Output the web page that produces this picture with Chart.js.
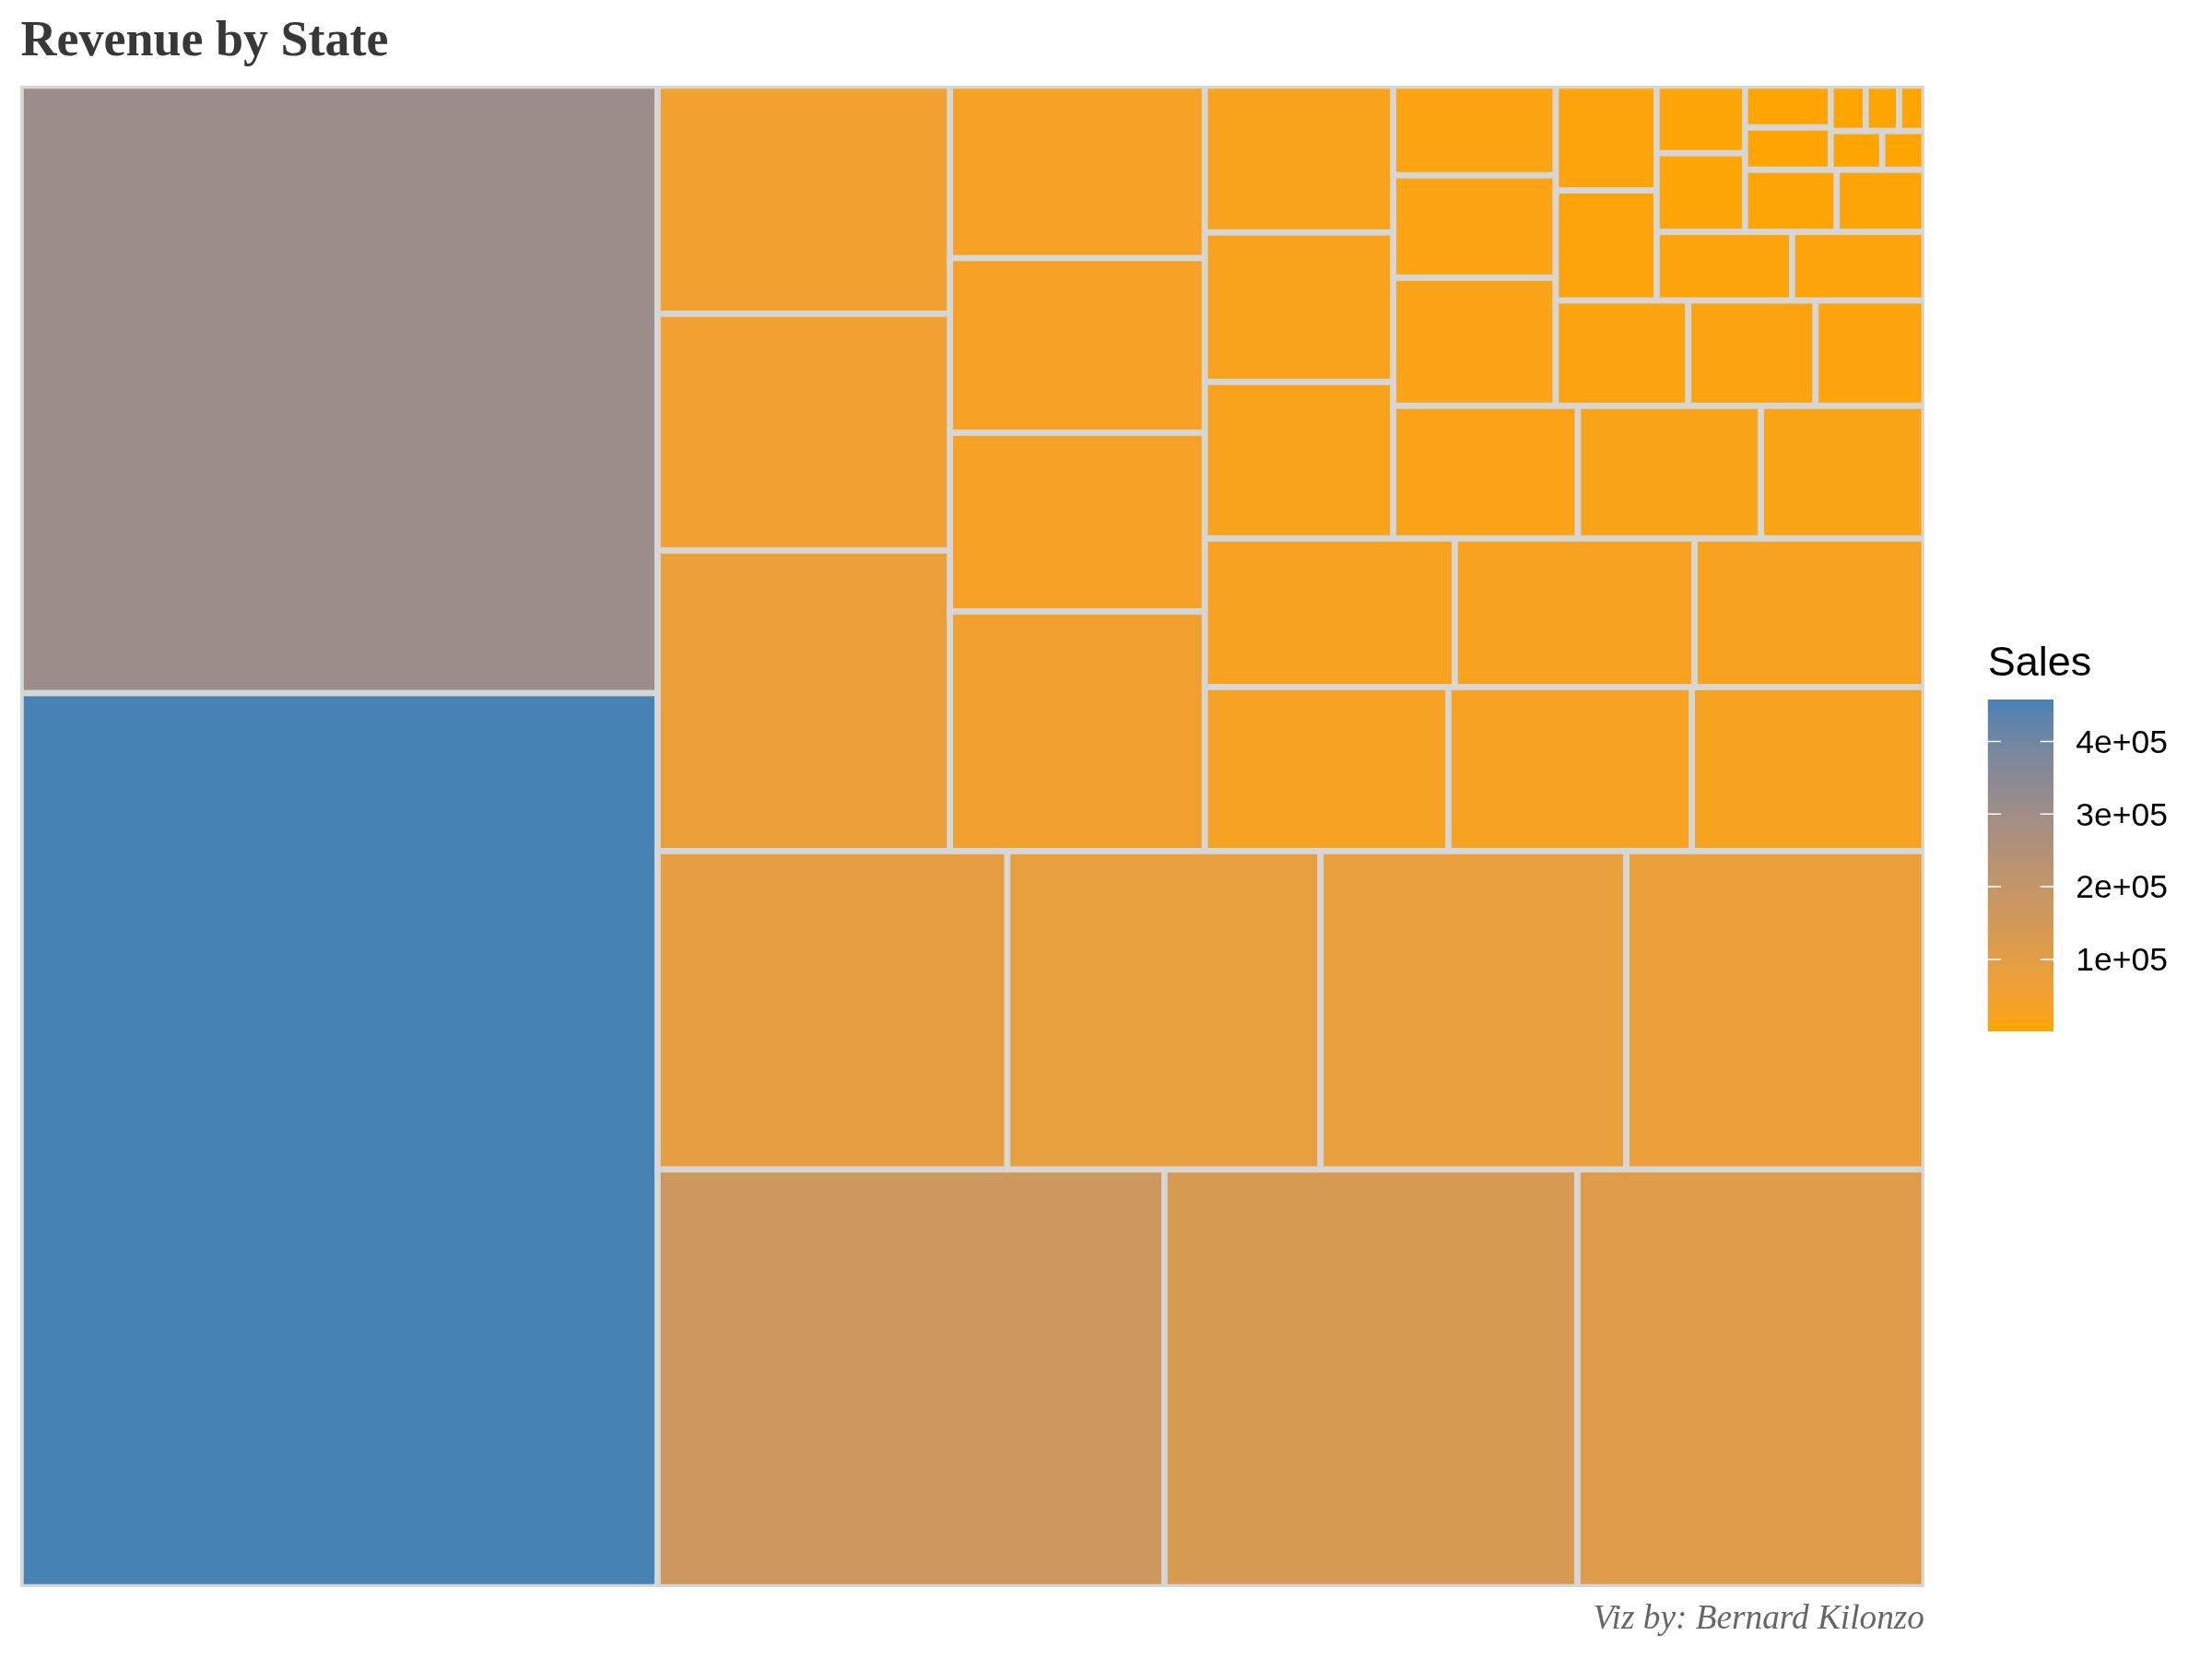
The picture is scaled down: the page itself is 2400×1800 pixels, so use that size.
<!DOCTYPE html>
<html>
<head>
<meta charset="utf-8">
<title>Revenue by State</title>
<script src="https://cdn.jsdelivr.net/npm/chart.js@4/dist/chart.umd.min.js"></script>
<style>
  html, body { margin: 0; padding: 0; background: #fff; }
  #wrap { position: relative; width: 2400px; height: 1800px; overflow: hidden; }
  #treemap { position: absolute; left: 0; top: 0; }
  #colorbar { position: absolute; left: 2100px; top: 670px; }
</style>
</head>
<body>
<div id="wrap">
  <canvas id="treemap" width="2400" height="1800"></canvas>
  <canvas id="colorbar" width="290" height="480"></canvas>
</div>
<script>
/* data, biggest first */
const states = [
  "California", "New York", "Texas", "Washington", "Pennsylvania", "Florida", "Illinois",
  "Ohio", "Michigan", "Virginia", "North Carolina", "Indiana", "Georgia", "Kentucky",
  "New Jersey", "Arizona", "Wisconsin", "Colorado", "Tennessee", "Minnesota", "Massachusetts",
  "Delaware", "Maryland", "Rhode Island", "Missouri", "Oklahoma", "Alabama", "Oregon",
  "Nevada", "Connecticut", "Arkansas", "Utah", "Mississippi", "Louisiana", "Vermont",
  "South Carolina", "Nebraska", "New Hampshire", "Montana", "New Mexico", "Iowa", "Idaho",
  "Kansas", "District of Columbia", "Wyoming", "South Dakota", "Maine", "West Virginia", "North Dakota"
];
const sales = [
  457688, 310876, 170188, 138641, 116512, 89474, 80166,
  78258, 76270, 70637, 55603, 53555, 49096, 36592,
  35764, 35282, 32115, 32108, 30662, 29863, 28634,
  27451, 23706, 22628, 22205, 19683, 19511, 17431,
  16729, 13385, 11678, 11220, 10771, 9217, 8929,
  8482, 7465, 7293, 5589, 4784, 4580, 4382,
  2914, 2865, 1603, 1316, 1271, 1210, 920
];
const legendTicks = [100000, 200000, 300000, 400000];
const legendLabels = ["1e+05", "2e+05", "3e+05", "4e+05"];

const LOW_COLOR = "#FFA500";
const HIGH_COLOR = "#4682B4";
const salesMin = Math.min(...sales);
const salesMax = Math.max(...sales);

/* --- colour scale, interpolated in Lab like ggplot's gradient --- */
function hexToLab(hex) {
  const n = parseInt(hex.slice(1), 16);
  const lin = [(n >> 16) & 255, (n >> 8) & 255, n & 255].map(c => {
    c /= 255;
    return c <= 0.04045 ? c / 12.92 : Math.pow((c + 0.055) / 1.055, 2.4);
  });
  const X = (0.4124564 * lin[0] + 0.3575761 * lin[1] + 0.1804375 * lin[2]) / 0.95047;
  const Y = 0.2126729 * lin[0] + 0.7151522 * lin[1] + 0.072175 * lin[2];
  const Z = (0.0193339 * lin[0] + 0.119192 * lin[1] + 0.9503041 * lin[2]) / 1.08883;
  const f = t => t > 0.008856 ? Math.cbrt(t) : 7.787 * t + 16 / 116;
  return [116 * f(Y) - 16, 500 * (f(X) - f(Y)), 200 * (f(Y) - f(Z))];
}

function labToRgb(lab) {
  const fy = (lab[0] + 16) / 116, fx = fy + lab[1] / 500, fz = fy - lab[2] / 200;
  const g = t => t * t * t > 0.008856 ? t * t * t : (t - 16 / 116) / 7.787;
  const X = g(fx) * 0.95047, Y = g(fy), Z = g(fz) * 1.08883;
  const rgb = [
    3.2404542 * X - 1.5371385 * Y - 0.4985314 * Z,
    -0.969266 * X + 1.8760108 * Y + 0.041556 * Z,
    0.0556434 * X - 0.2040259 * Y + 1.0572252 * Z
  ].map(c => {
    c = c <= 0.0031308 ? 12.92 * c : 1.055 * Math.pow(Math.max(c, 0), 1 / 2.4) - 0.055;
    return Math.round(Math.min(1, Math.max(0, c)) * 255);
  });
  return `rgb(${rgb[0]}, ${rgb[1]}, ${rgb[2]})`;
}

const labLow = hexToLab(LOW_COLOR);
const labHigh = hexToLab(HIGH_COLOR);

function salesColor(v) {
  const t = (v - salesMin) / (salesMax - salesMin);
  return labToRgb(labLow.map((c, i) => c + (labHigh[i] - c) * t));
}

/* --- squarified layout on the unit square, from the bottom left --- */
function worstRatio(strip, side) {
  const sum = strip.reduce((a, b) => a + b, 0);
  const lo = Math.min(...strip), hi = Math.max(...strip);
  return Math.max(side * side * hi / (sum * sum), sum * sum / (side * side * lo));
}

function squarify(values) {
  const total = values.reduce((a, b) => a + b, 0);
  const cells = [];
  let x = 0, y = 0, w = 1, h = 1, i = 0;
  while (i < values.length) {
    const alongX = w < h;
    const side = alongX ? w : h;
    const strip = [values[i] / total];
    let next = i + 1;
    while (next < values.length) {
      const tryStrip = strip.concat(values[next] / total);
      if (worstRatio(tryStrip, side) > worstRatio(strip, side)) break;
      strip.push(values[next] / total);
      next++;
    }
    const stripSum = strip.reduce((a, b) => a + b, 0);
    const depth = stripSum / side;
    let pos = alongX ? x : y;
    strip.forEach((area, k) => {
      const len = area / depth;
      if (alongX) cells.push({x: pos, y: y, x2: pos + len, y2: y + depth, value: values[i + k], name: states[i + k]});
      else cells.push({x: x, y: pos, x2: x + depth, y2: pos + len, value: values[i + k], name: states[i + k]});
      pos += len;
    });
    if (alongX) { y += depth; h -= depth; } else { x += depth; w -= depth; }
    i = next;
  }
  return cells;
}

/* --- treemap cell + controller, Chart.js has no treemap of its own --- */
class TreemapCell extends Chart.Element {
  static id = "treemapCell";
  static defaults = {backgroundColor: "#000000", borderColor: "#000000", borderWidth: 0};

  draw(ctx) {
    const o = this.options;
    const w = this.x2 - this.x, h = this.y2 - this.y;
    ctx.save();
    ctx.fillStyle = o.backgroundColor;
    ctx.fillRect(this.x, this.y, w, h);
    ctx.strokeStyle = o.borderColor;
    ctx.lineWidth = o.borderWidth;
    ctx.strokeRect(this.x, this.y, w, h);
    ctx.restore();
  }
  inRange(mx, my) {
    return mx >= this.x && mx <= this.x2 && my >= Math.min(this.y, this.y2) && my <= Math.max(this.y, this.y2);
  }
  inXRange(mx) { return mx >= this.x && mx <= this.x2; }
  inYRange(my) { return my >= Math.min(this.y, this.y2) && my <= Math.max(this.y, this.y2); }
  getCenterPoint() { return {x: (this.x + this.x2) / 2, y: (this.y + this.y2) / 2}; }
  tooltipPosition() { return this.getCenterPoint(); }
}

class TreemapController extends Chart.DatasetController {
  static id = "treemap";
  static defaults = {dataElementType: "treemapCell", datasetElementType: false, animation: false};

  update(mode) {
    const meta = this.getMeta();
    this.updateElements(meta.data, 0, meta.data.length, mode);
  }
  updateElements(cells, start, count, mode) {
    const {xScale, yScale} = this.getMeta();
    for (let i = start; i < start + count; i++) {
      const d = this.getDataset().data[i];
      this.updateElement(cells[i], i, {
        x: xScale.getPixelForValue(d.x),
        x2: xScale.getPixelForValue(d.x2),
        y: yScale.getPixelForValue(d.y2),
        y2: yScale.getPixelForValue(d.y),
        options: this.resolveDataElementOptions(i, mode)
      }, mode);
    }
  }
  draw() {
    const ctx = this._ctx;
    this.getMeta().data.forEach(cell => cell.draw(ctx));
  }
}

Chart.register(TreemapCell, TreemapController);

/* --- main chart --- */
new Chart(document.getElementById("treemap"), {
  type: "treemap",
  data: {
    datasets: [{
      label: "Sales",
      data: squarify(sales),
      parsing: false,
      clip: 0,
      backgroundColor: c => salesColor(c.raw ? c.raw.value : salesMin),
      borderColor: "#D6D6D6",
      borderWidth: 6.6
    }]
  },
  options: {
    responsive: false,
    animation: false,
    layout: {padding: {left: 22.5, right: 312, top: 0, bottom: 0}},
    scales: {
      x: {type: "linear", min: 0, max: 1, display: false},
      y: {type: "linear", min: 0, max: 1, display: false}
    },
    plugins: {
      legend: {display: false},
      title: {
        display: true,
        text: "Revenue by State",
        align: "start",
        color: "#383838",
        font: {family: "'Liberation Serif', 'Times New Roman', serif", size: 54, weight: "bold"},
        padding: {top: 13.6, bottom: 14.6}
      },
      subtitle: {
        display: true,
        position: "bottom",
        fullSize: false,
        text: "Viz by: Bernard Kilonzo",
        align: "end",
        color: "#666666",
        font: {family: "'Liberation Serif', 'Times New Roman', serif", size: 37.3, style: "italic"},
        padding: {top: 13, bottom: 20.2}
      },
      tooltip: {
        callbacks: {
          title: items => items[0].raw.name,
          label: item => "Sales: " + item.raw.value.toLocaleString("en-US")
        }
      }
    }
  }
});

/* --- colour bar is its own little chart so the ticks come off a real axis --- */
const barTicks = {
  id: "barTicks",
  afterDatasetsDraw(chart) {
    const {ctx, chartArea, scales} = chart;
    ctx.save();
    ctx.strokeStyle = "#ffffff";
    ctx.lineWidth = 1.5;
    legendTicks.forEach(v => {
      const y = scales.y.getPixelForValue(v);
      ctx.beginPath();
      ctx.moveTo(chartArea.left, y);
      ctx.lineTo(chartArea.left + 14.3, y);
      ctx.moveTo(chartArea.right - 14.3, y);
      ctx.lineTo(chartArea.right, y);
      ctx.stroke();
    });
    ctx.restore();
  }
};

function barGradient(c) {
  const {ctx, scales} = c.chart;
  const y0 = scales.y.getPixelForValue(salesMin);
  const y1 = scales.y.getPixelForValue(salesMax);
  if (!isFinite(y0) || !isFinite(y1)) return LOW_COLOR;
  const g = ctx.createLinearGradient(0, y0, 0, y1);
  for (let s = 0; s <= 20; s++) {
    g.addColorStop(s / 20, salesColor(salesMin + (salesMax - salesMin) * s / 20));
  }
  return g;
}

new Chart(document.getElementById("colorbar"), {
  type: "bar",
  data: {
    labels: ["Sales"],
    datasets: [{
      data: [[salesMin, salesMax]],
      backgroundColor: barGradient,
      barPercentage: 1,
      categoryPercentage: 1
    }]
  },
  options: {
    responsive: false,
    animation: false,
    events: [],
    layout: {padding: {left: 56.7, right: 38, top: 0, bottom: 31}},
    scales: {
      x: {display: false},
      y: {
        position: "right",
        min: salesMin,
        max: salesMax,
        border: {display: false},
        grid: {display: false, drawTicks: false},
        afterBuildTicks: axis => { axis.ticks = legendTicks.map(value => ({value})); },
        // fixed width and no label overhang, so the bar keeps its own size
        afterFit: axis => {
          axis.width = 124;
          axis.paddingTop = 0;
          axis.paddingBottom = 0;
        },
        ticks: {
          autoSkip: false,
          padding: 23,
          crossAlign: "far",
          labelOffset: 2.5,
          color: "#000000",
          font: {family: "'Liberation Sans', Arial, sans-serif", size: 35.5},
          callback: v => legendLabels[legendTicks.indexOf(v)]
        }
      }
    },
    plugins: {
      legend: {display: false},
      tooltip: {enabled: false},
      title: {
        display: true,
        text: "Sales",
        align: "start",
        color: "#000000",
        font: {family: "'Liberation Sans', Arial, sans-serif", size: 45, weight: "normal"},
        padding: {top: 23.4, bottom: 11.6}
      }
    }
  },
  plugins: [barTicks]
});
</script>
</body>
</html>
